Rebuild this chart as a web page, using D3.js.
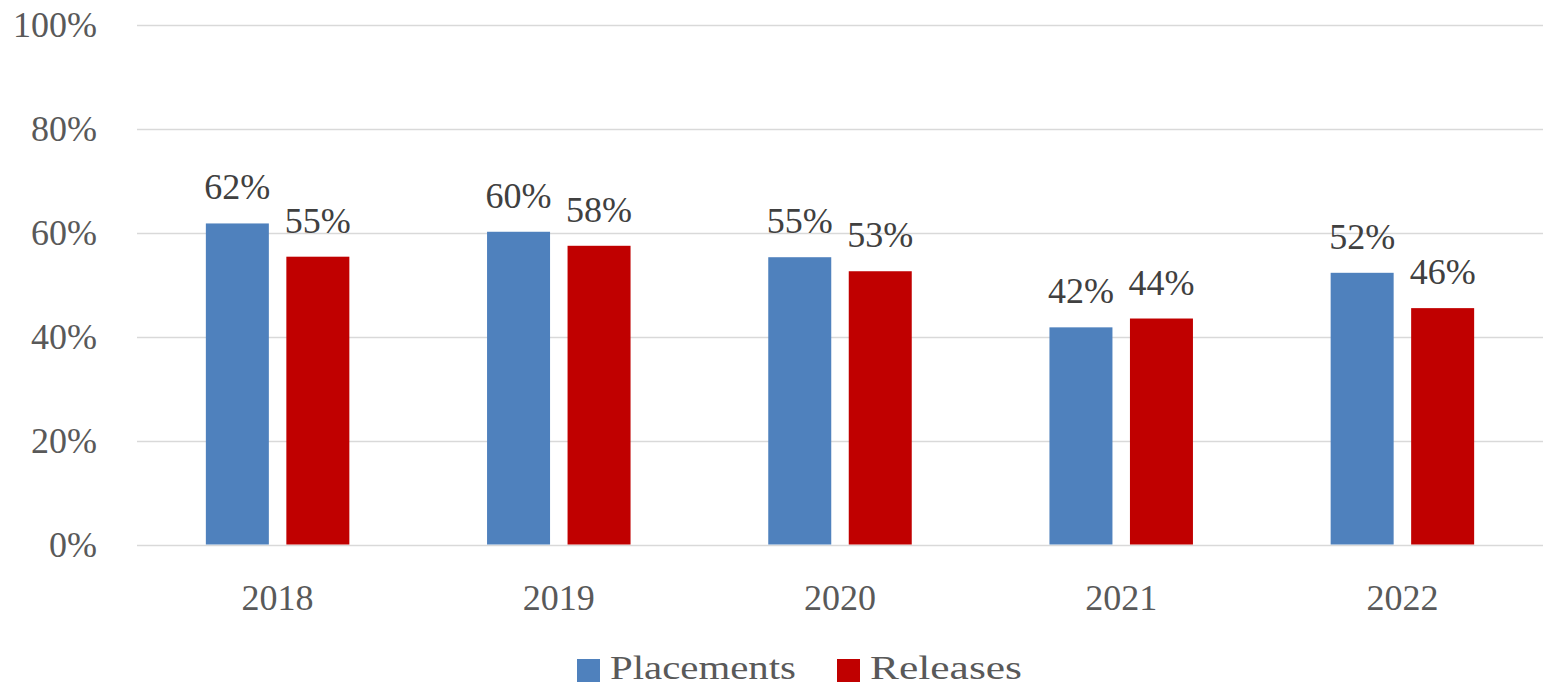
<!DOCTYPE html>
<html><head><meta charset="utf-8">
<script src="https://cdn.jsdelivr.net/npm/d3@7"></script>
<style>body{margin:0;background:#fff}svg{display:block}</style>
</head><body><svg id="c" width="1543" height="686"></svg>
<script>
const years = ["2018","2019","2020","2021","2022"];
const placements = [61.8, 60.2, 55.3, 41.8, 52.3];
const releases = [55.4, 57.5, 52.6, 43.5, 45.5];
const seriesNames = ["Placements","Releases"];
const seriesColors = ["#4f81bd","#c00000"];
const yTicks = [0,20,40,60,80,100];

const W=1543,H=686, L=137, R=1543, T=25, B=544.5;
const FONT="'Liberation Serif', 'DejaVu Serif', serif";
const svg=d3.select("#c");
const x=d3.scaleBand().domain(years).range([L,R]);
const y=d3.scaleLinear().domain([0,100]).range([B,T]);
const xs=d3.scaleBand().domain(seriesNames).range([0,143.5]).paddingInner(17.5/80.5);

// grid
svg.append("g").selectAll("line").data(yTicks).join("line")
 .attr("x1",L).attr("x2",R).attr("y1",d=>Math.round(y(d))+0.5).attr("y2",d=>Math.round(y(d))+0.5)
 .attr("stroke","#d9d9d9").attr("stroke-width",1.5);
svg.append("g").selectAll("text").data(yTicks).join("text")
 .attr("x",97).attr("y",d=>y(d)+12).attr("text-anchor","end")
 .attr("font-family",FONT).attr("font-size",36).attr("fill","#595959").text(d=>d+"%");

const data=[placements,releases];
data.forEach((vals,si)=>{
  const g=svg.append("g");
  const bx=d=>x(d)+x.bandwidth()/2-71.75+xs(seriesNames[si]);
  g.selectAll("rect").data(years).join("rect")
   .attr("x",bx)
   .attr("width",xs.bandwidth())
   .attr("y",(d,i)=>y(vals[i])).attr("height",(d,i)=>B-y(vals[i]))
   .attr("fill",seriesColors[si]);
  g.selectAll("text").data(years).join("text")
   .attr("x",d=>bx(d)+xs.bandwidth()/2)
   .attr("y",(d,i)=>y(vals[i])-24).attr("text-anchor","middle")
   .attr("font-family",FONT).attr("font-size",36).attr("fill","#404040")
   .text((d,i)=>Math.round(vals[i])+"%");
});

svg.append("g").selectAll("text").data(years).join("text")
 .attr("x",d=>x(d)+x.bandwidth()/2).attr("y",610).attr("text-anchor","middle")
 .attr("font-family",FONT).attr("font-size",36).attr("fill","#595959").text(d=>d);

// legend
const leg=svg.append("g");
const lx=[577,837], tlen=[186,152];
seriesNames.forEach((n,i)=>{
  leg.append("rect").attr("x",lx[i]).attr("y",659).attr("width",23).attr("height",23).attr("fill",seriesColors[i]);
  leg.append("text").attr("x",lx[i]+33).attr("y",678.5).attr("font-family",FONT).attr("font-size",34)
   .attr("textLength",tlen[i]).attr("lengthAdjust","spacingAndGlyphs")
   .attr("fill","#595959").text(n);
});
</script></body></html>
